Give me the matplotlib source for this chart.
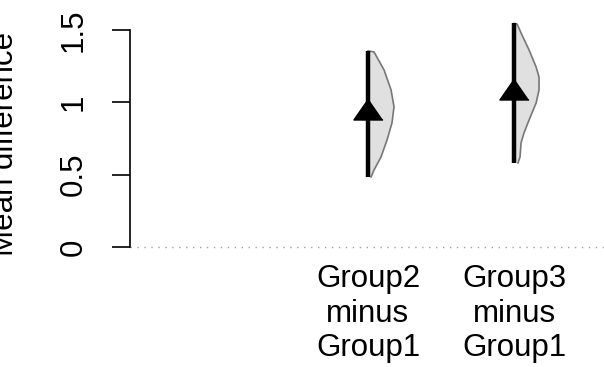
import numpy as np
import matplotlib
matplotlib.use("Agg")
import matplotlib.pyplot as plt

plt.rcParams["font.family"] = ["Liberation Sans", "DejaVu Sans"]

# contrasts against Group1
labels = ["Group2\nminus\nGroup1", "Group3\nminus\nGroup1"]
positions = [2, 3]
means = [0.957, 1.092]
ci_low = [0.484, 0.581]
ci_high = [1.355, 1.545]

# half-violin outlines of the bootstrap distribution (y value, density half-width)
g2_y = [1.355, 1.348, 1.223, 1.085, 0.968, 0.857, 0.739, 0.622, 0.532, 0.484]
g2_w = [0.0, 0.041, 0.110, 0.158, 0.178, 0.164, 0.130, 0.089, 0.041, 0.021]
g3_y = [1.545, 1.541, 1.479, 1.361, 1.244, 1.175, 1.085, 0.995, 0.878, 0.788, 0.719, 0.622, 0.581]
g3_w = [0.0, 0.021, 0.048, 0.103, 0.151, 0.171, 0.171, 0.151, 0.103, 0.068, 0.048, 0.041, 0.027]

yticks = [0, 0.5, 1, 1.5]
ytick_labels = ["0", "0.5", "1", "1.5"]

FS = 22.5

fig = plt.figure(figsize=(6.04, 3.67), dpi=100)
ax = fig.add_axes([130 / 604, 107 / 367, 474 / 604, 260 / 367])
ax.set_xlim(0.370, 3.616)
ax.set_ylim(-0.0898, 1.707)

ax.axhline(0, color="#a0a0a0", lw=1, ls=(0, (1, 4)), zorder=1)

for x, ys, ws in [(2, g2_y, g2_w), (3, g3_y, g3_w)]:
    ys = np.array(ys)
    ws = np.array(ws)
    ax.fill_betweenx(ys, x, x + ws, facecolor="#e0e0e0", edgecolor="none", zorder=2)
    ax.plot(x + ws, ys, color="#777777", lw=1.2, zorder=3)

tri = [(0, 0.72), (-1, -0.72), (1, -0.72)]
for x, m, lo, hi in zip(positions, means, ci_low, ci_high):
    ax.plot([x, x], [lo, hi], color="black", lw=3.2, solid_capstyle="butt", zorder=4)
    ax.plot([x], [m], marker=tri, ms=21, color="black", zorder=5)

for s in ["top", "right", "bottom"]:
    ax.spines[s].set_visible(False)
ax.spines["left"].set_bounds(0, 1.5)
ax.spines["left"].set_linewidth(1.2)

ax.set_yticks(yticks)
ax.set_yticklabels(ytick_labels, rotation=90, va="center", fontsize=FS)
ax.tick_params(axis="y", length=13, width=1.2, pad=17)

ax.set_xticks(positions)
ax.set_xticklabels(labels, fontsize=FS, linespacing=1.2)
ax.tick_params(axis="x", length=0, pad=3)

ax.set_ylabel("Mean difference", fontsize=FS)
ax.yaxis.set_label_coords(-0.232, 0.448)

fig.savefig("out.png", dpi=100)
